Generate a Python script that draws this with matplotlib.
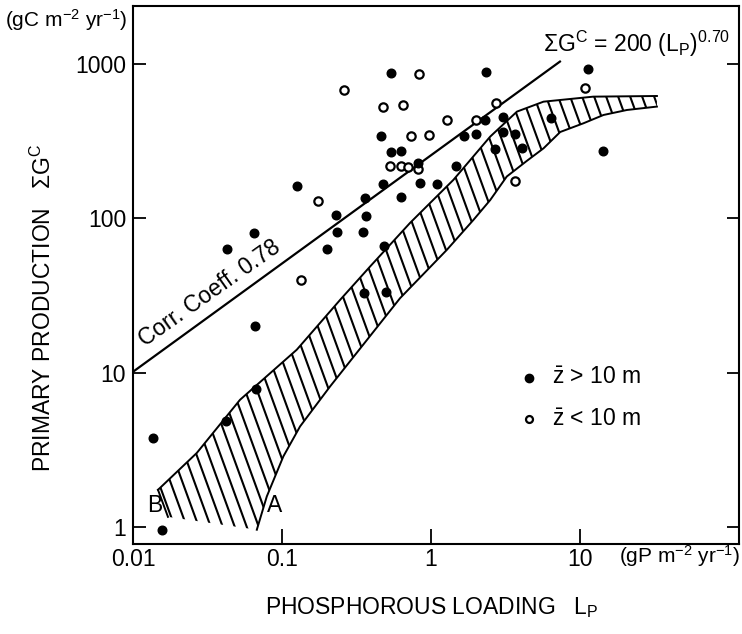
import numpy as np
import matplotlib
matplotlib.use("Agg")
import matplotlib.pyplot as plt
from matplotlib.patches import Polygon
from matplotlib.collections import LineCollection
from matplotlib.ticker import NullLocator

plt.rcParams['font.family'] = ['Liberation Sans', 'DejaVu Sans']
plt.rcParams['mathtext.fontset'] = 'custom'
plt.rcParams['mathtext.rm'] = 'Liberation Sans'
plt.rcParams['mathtext.it'] = 'Liberation Sans:italic'
plt.rcParams['mathtext.bf'] = 'Liberation Sans:bold'

# ---------------- data ----------------
# lakes with mean depth > 10 m (filled)
deep_lp = [0.065, 0.043, 0.20, 0.066, 0.067, 0.042, 0.0136, 0.0157, 0.127,
           0.54, 0.465, 1.68, 0.54, 0.63, 0.82, 1.47, 0.48, 0.84, 1.10,
           0.36, 0.63, 0.23, 0.367, 0.234, 0.352, 0.485, 0.358, 0.498,
           2.34, 11.4, 2.30, 3.07, 2.02, 3.07, 3.64, 6.41, 2.70, 4.10, 14.3]
deep_pp = [80, 63, 63, 20, 7.8, 4.9, 3.8, 0.96, 162,
           865, 342, 342, 267, 272, 227, 216, 166, 168, 167,
           136, 137, 105, 104, 82, 82, 66, 32.6, 33.2,
           883, 919, 432, 454, 351, 363, 352, 447, 282, 285, 274]
# lakes with mean depth < 10 m (open)
shallow_lp = [0.134, 0.174, 0.262, 0.48, 0.65, 0.833, 1.285, 0.736, 0.973,
              0.532, 0.631, 0.706, 0.824, 2.00, 2.73, 10.9, 3.64]
shallow_pp = [40, 129, 675, 522, 542, 853, 434, 342, 347,
              218, 218, 214, 207, 432, 559, 699, 173]

# regression line  SumG = coef * Lp ** exp
line_coef = 255
line_exp = 0.70
line_lp_range = [0.01, 7.45]

# hatched band (B = upper edge, A = lower edge)
band_upper_lp = [0.01472, 0.0268, 0.0523, 0.1257, 0.2455, 0.3906, 0.725,
                 1.416, 2.50, 3.78, 5.70, 12.3, 32.9]
band_upper_pp = [1.75, 3.03, 6.69, 14.1, 29.6, 48.7, 93.3,
                 177, 337, 489, 567, 611, 617]
band_lower_lp = [0.01717, 0.0678, 0.0791, 0.1022, 0.1323, 0.2104, 0.621,
                 1.279, 1.93, 2.50, 3.23, 4.41, 5.70, 7.38, 10.57, 14.4,
                 20.7, 32.9]
band_lower_pp = [1.17, 0.966, 1.586, 2.88, 4.50, 8.16, 30.4,
                 62.4, 97.5, 131, 186, 235, 283, 361, 411, 465,
                 501, 527]

xticks = [0.01, 0.1, 1, 10]
xtick_labels = ['0.01', '0.1', '1', '10']
yticks = [1, 10, 100, 1000]
ytick_labels = ['1', '10', '100', '1000']
legend_labels = [r'$\bar{\mathrm{z}}$ > 10 m', r'$\bar{\mathrm{z}}$ < 10 m']

FS = 16.5
FS_UNIT = 15

# ---------------- figure ----------------
fig = plt.figure(figsize=(7.42, 6.34), dpi=100)
ax = fig.add_axes([133 / 742, 90 / 634, 606 / 742, 538 / 634])
ax.set_xscale('log')
ax.set_yscale('log')
ax.set_xlim(0.01, 117)
ax.set_ylim(0.781, 2357)

# band polygon + custom steep hatching
poly_x = band_upper_lp + band_lower_lp[::-1]
poly_y = band_upper_pp + band_lower_pp[::-1]
band = Polygon(np.column_stack([poly_x, poly_y]), closed=True,
               facecolor='none', edgecolor='none', transform=ax.transData)
ax.add_patch(band)

bbox = ax.get_window_extent()
W, H = bbox.width, bbox.height
k = 1 / np.tan(np.radians(70))
segs = []
for x0 in np.arange(-k * H, W + 10, 12.0):
    segs.append([(x0 / W, 1.0), ((x0 + k * H) / W, 0.0)])
hatch = LineCollection(segs, colors='black', linewidths=1.5,
                       transform=ax.transAxes)
ax.add_collection(hatch)
hatch.set_clip_path(band)

ax.plot(band_upper_lp, band_upper_pp, color='black', lw=1.4)
ax.plot(band_lower_lp[1:], band_lower_pp[1:], color='black', lw=1.4)
ax.plot([band_upper_lp[0], band_lower_lp[0]],
        [band_upper_pp[0], band_lower_pp[0]], color='black', lw=1.4)

# regression line
lx = np.array(line_lp_range)
ax.plot(lx, line_coef * lx ** line_exp, color='black', lw=1.6,
        solid_capstyle='butt')

# points
ax.plot(shallow_lp, shallow_pp, 'o', ms=6.0, mfc='white', mec='black',
        mew=1.6, ls='none', zorder=5)
ax.plot(deep_lp, deep_pp, 'o', ms=6.2, mfc='black', mec='black',
        ls='none', zorder=6)

# legend (manual)
ax.plot([0.654], [0.3086], 'o', ms=6.0, color='black',
        transform=ax.transAxes, clip_on=False)
ax.plot([0.654], [0.2323], 'o', ms=5.0, mfc='white', mec='black', mew=1.6,
        transform=ax.transAxes, clip_on=False)
ax.text(0.691, 0.3086, legend_labels[0], transform=ax.transAxes,
        fontsize=FS, va='center', ha='left')
ax.text(0.691, 0.2323, legend_labels[1], transform=ax.transAxes,
        fontsize=FS, va='center', ha='left')

# annotations
ax.text(0.6766, 0.9156, r'ΣG$^{\mathrm{C}}$ = 200 (L$_{\mathrm{P}}$)$^{0.70}$',
        transform=ax.transAxes, fontsize=FS, ha='left', va='baseline')
ax.text(0.0121, 14.6, 'Corr. Coeff. 0.78', rotation=35.3,
        rotation_mode='anchor', ha='left', va='baseline', fontsize=FS)
ax.text(0.01405, 1.39, 'B', fontsize=FS, ha='center', va='center')
ax.text(0.0899, 1.39, 'A', fontsize=FS, ha='center', va='center')

# axes styling
ax.set_xticks(xticks)
ax.set_xticklabels(xtick_labels)
ax.set_yticks(yticks)
ax.set_yticklabels(ytick_labels)
ax.xaxis.set_minor_locator(NullLocator())
ax.yaxis.set_minor_locator(NullLocator())
ax.tick_params(axis='x', direction='in', length=11, width=1.3, top=False,
               labelsize=FS, pad=3)
ax.tick_params(axis='y', direction='in', length=9, width=1.3, right=True,
               labelsize=FS, pad=5)
for s in ax.spines.values():
    s.set_linewidth(1.5)

fig.text(43 / 742, 1 - 308 / 634,
         r'PRIMARY PRODUCTION   ΣG$^{\mathrm{C}}$', rotation=90,
         fontsize=FS, ha='center', va='center')
fig.text(5 / 742, 1 - 20 / 634, r'(gC m$^{-2}$ yr$^{-1}$)', fontsize=FS_UNIT,
         ha='left', va='center')
fig.text(740 / 742, 1 - 556 / 634, r'(gP m$^{-2}$ yr$^{-1}$)', fontsize=FS_UNIT,
         ha='right', va='center')
fig.text(265 / 742, 1 - 608 / 634, r'PHOSPHOROUS LOADING   L$_{\mathrm{P}}$',
         fontsize=FS, ha='left', va='center')

fig.savefig('out.png', dpi=100, facecolor='white')
